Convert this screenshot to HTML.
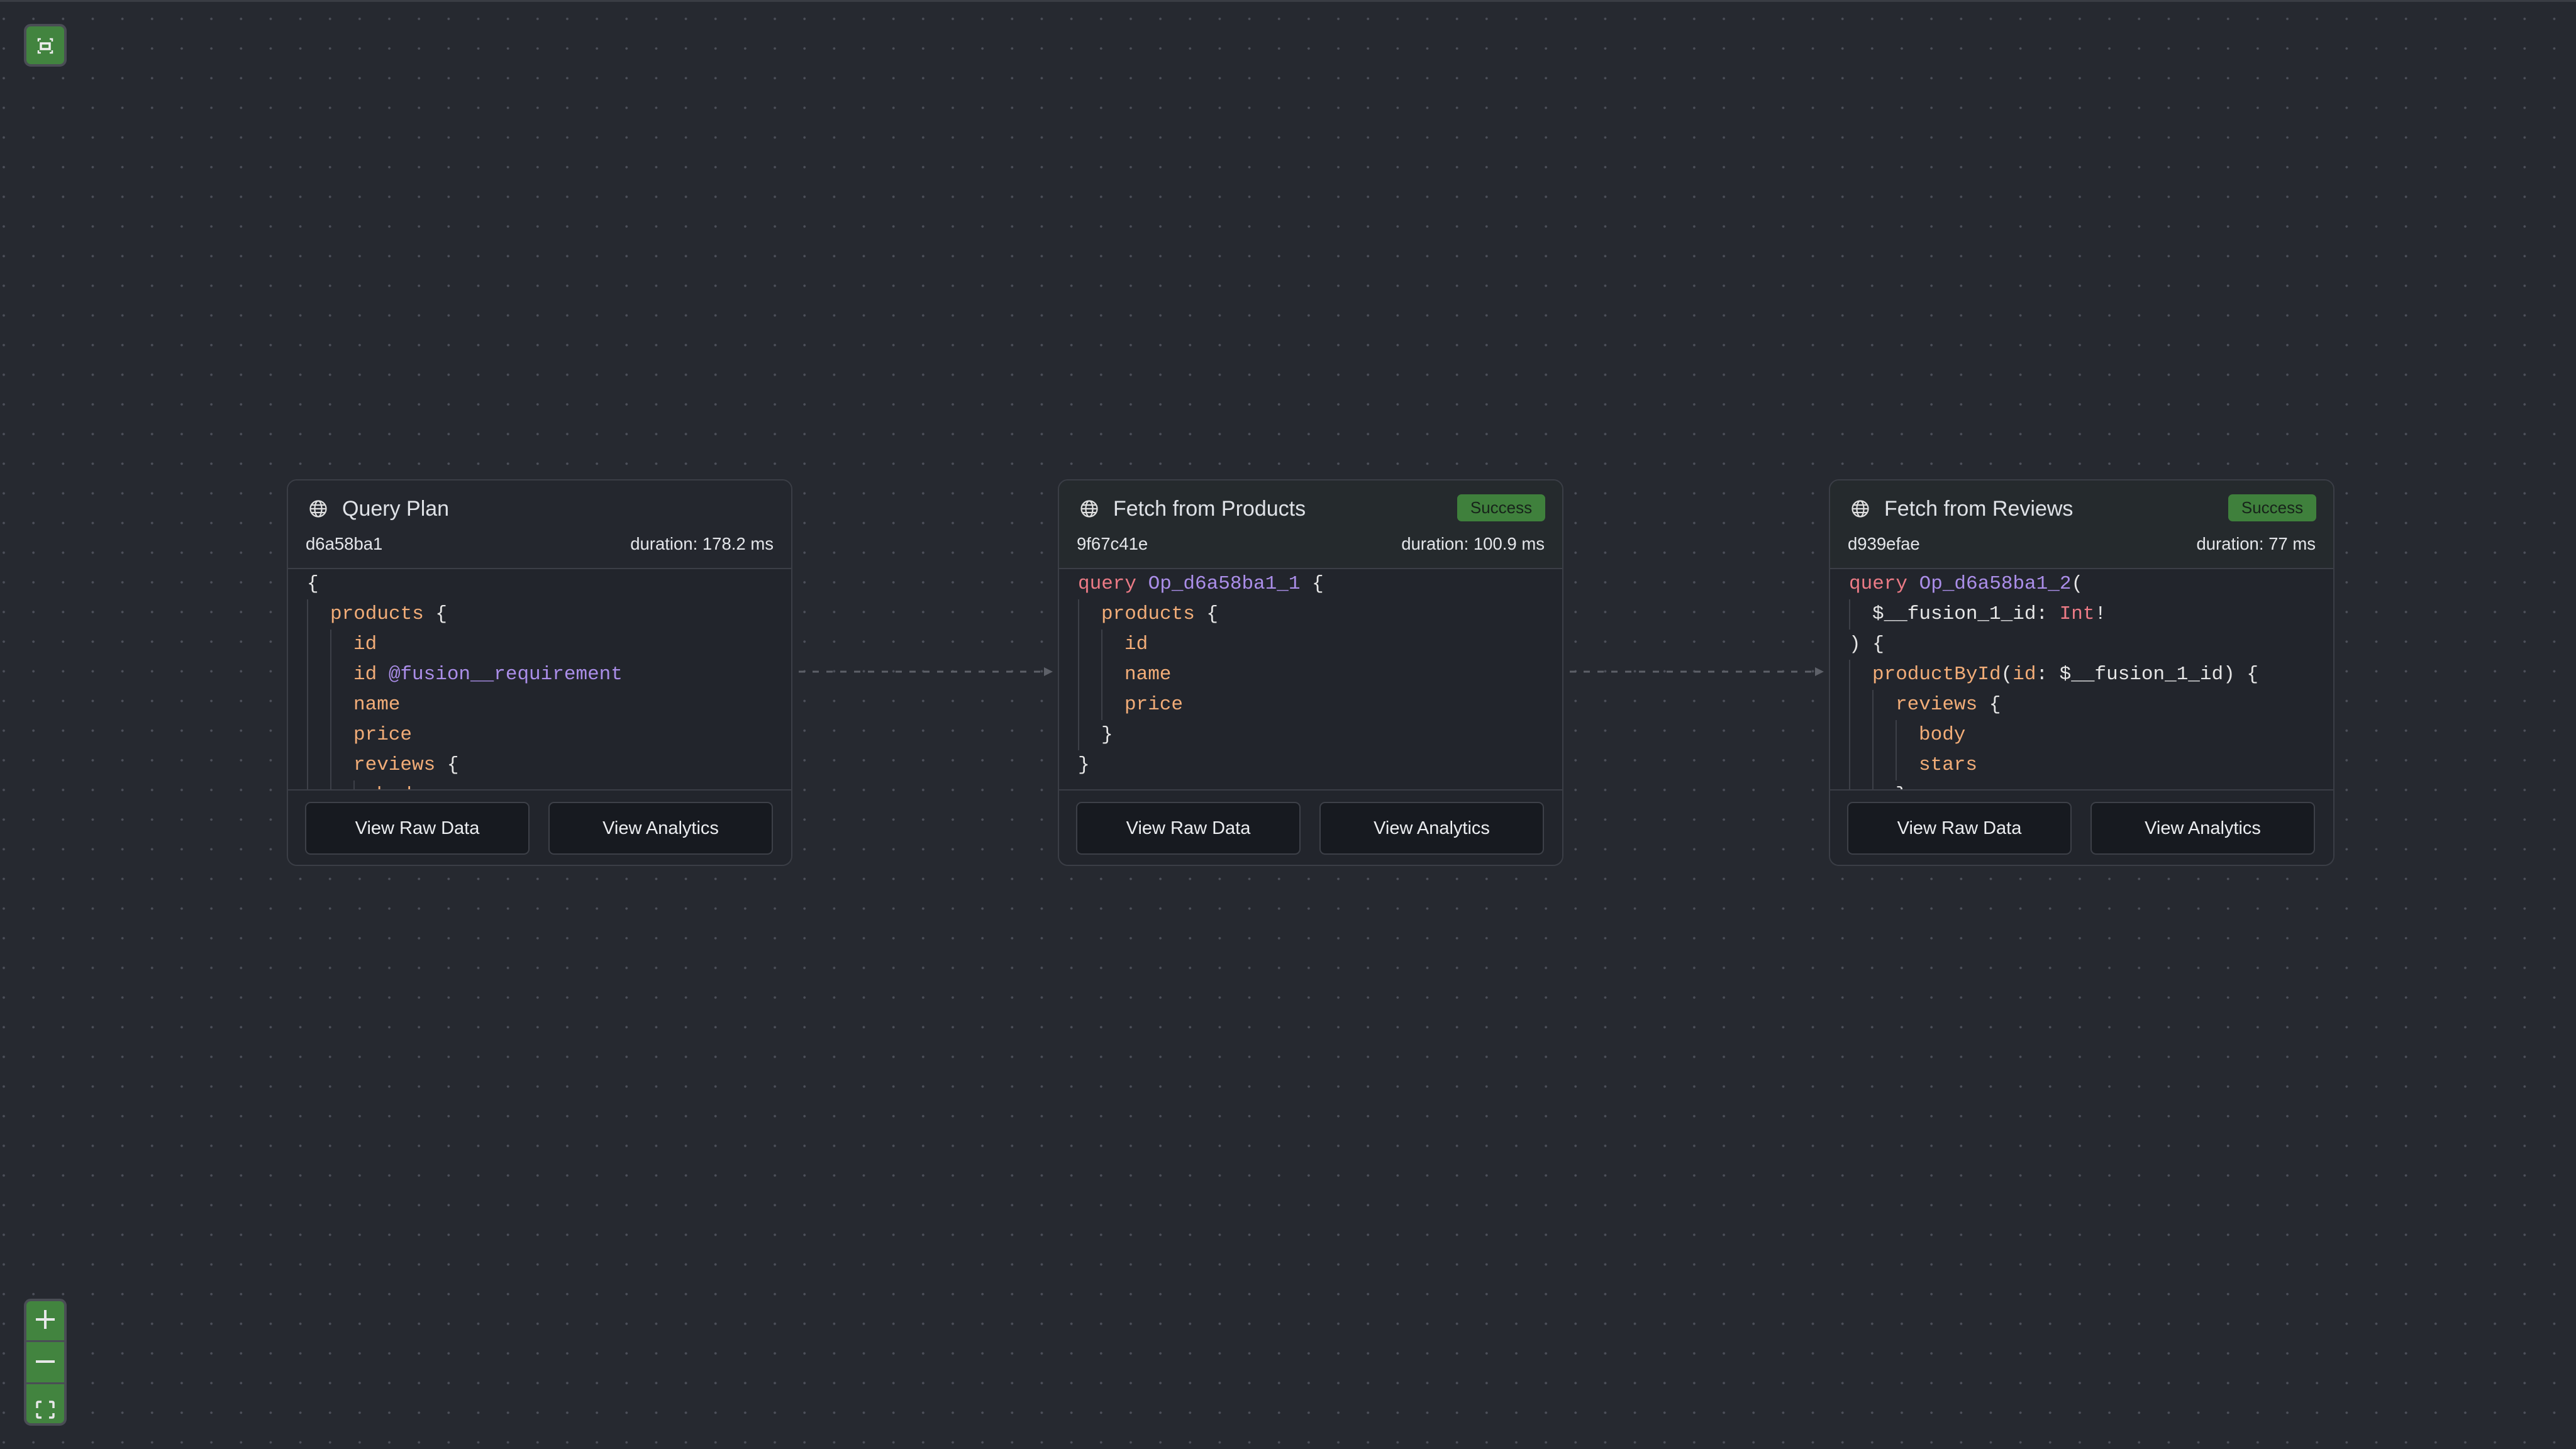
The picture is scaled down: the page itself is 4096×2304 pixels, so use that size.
<!DOCTYPE html>
<html><head><meta charset="utf-8"><style>
*{box-sizing:border-box;margin:0;padding:0}
html,body{width:4096px;height:2304px;overflow:hidden}
body{background-color:#262930;background-image:radial-gradient(circle,#4d505a 1.6px,transparent 2.2px);background-size:47.16px 47.16px;background-position:-17.58px 6.42px;font-family:"Liberation Sans",sans-serif;position:relative}
.topline{position:absolute;left:0;top:0;width:4096px;height:3px;background:#3a3d44}
.node{position:absolute;top:762px;width:804px;height:615px;border:2px solid #3b3e46;border-radius:16px;background:#22252c;overflow:hidden}
.hdr{position:absolute;left:0;top:0;right:0;height:141px;border-bottom:2px solid #3b3e46;background:#24272e}
.n2 .hdr,.n3 .hdr{background:#252a2d}
.icon{position:absolute;left:33px;top:30px;width:30px;height:30px}
.title{position:absolute;left:86px;top:25px;font-size:34px;color:#dfe2e7;line-height:40px}
.meta{position:absolute;left:28px;right:28px;top:86px;font-size:27.5px;color:#e4e6ea;line-height:30px}
.meta .r{position:absolute;right:0;top:0}
.badge{position:absolute;right:27px;top:22px;width:140px;height:43px;background:#3f803c;border-radius:7px;color:#17231a;font-size:26px;line-height:43px;text-align:center}
.code{position:absolute;left:0;right:0;top:141px;height:350px;overflow:hidden;padding-left:30px;font-family:"Liberation Mono",monospace;font-size:31px;color:#e8e8e8}
.l{height:48px;line-height:48px;white-space:pre;display:flex}
.g{width:37px;flex:none;border-left:2px solid #3d4048;height:48px}
.o{color:#f2ad78}.p{color:#ab8ee9}.k{color:#ec7b86}.w{color:#e6e6e6}
.ftr{position:absolute;left:0;right:0;top:491px;bottom:0;border-top:2px solid #3b3e46;background:#22252c}
.btn{position:absolute;top:18px;width:357px;height:84px;background:#171a20;border:2px solid #3d4048;border-radius:9px;color:#eceef1;font-size:29px;line-height:80px;text-align:center}
.b1{left:27px}.b2{left:414px}
.ctl{position:absolute;left:38px;width:68px;background:#42843f;border:4px solid #4a4d55;border-radius:11px}
.edge{position:absolute;top:1057px}
</style></head><body>
<div class="topline"></div>

<div class="ctl" style="top:38px;height:68px">
<svg width="60" height="60" viewBox="0 0 60 60" style="position:absolute;left:0;top:0"><g stroke="#eee" stroke-width="2.5" fill="none"><path d="M19 24v-4h4M37 20h4v4M19 38v4h4M41 38v4h-4"/><rect x="23" y="27" width="14" height="9" stroke-width="3.5"/></g></svg>
</div>

<div class="ctl" style="top:2065px;height:202px">
<svg width="60" height="194" viewBox="0 0 60 194" style="position:absolute;left:0;top:0">
<g stroke="#e8e8ea" stroke-width="4" fill="none"><path d="M15 29h30M30 14v30"/><path d="M15 96h30"/><path d="M17 170v-8q0-2 2-2h5M36 160h5q2 0 2 2v8M17 178v5q0 2 2 2h5M36 185h5q2 0 2-2v-5" stroke-width="3.5"/></g>
<rect x="0" y="62" width="60" height="3" fill="#4a4d55"/><rect x="0" y="129" width="60" height="3" fill="#4a4d55"/>
</svg></div>

<svg class="edge" width="4096" height="22" style="left:0">
<g stroke="#5d6068" stroke-width="3" stroke-dasharray="10 12" fill="none"><path d="M1270 11H1662"/><path d="M2496 11H2888"/></g>
<g fill="#5d6068"><path d="M1660 4l14 7-14 7z"/><path d="M2886 4l14 7-14 7z"/></g>
</svg>

<!-- Node 1 -->
<div class="node n1" style="left:456px">
<div class="hdr">
<svg class="icon" viewBox="0 0 30 30"><g stroke="#e0e0e0" stroke-width="2.2" fill="none"><circle cx="15" cy="15" r="12.5"/><ellipse cx="15" cy="15" rx="5.5" ry="12.5"/><path d="M2.5 15h25M4.5 9h21M4.5 21h21"/></g></svg>
<div class="title">Query Plan</div>
<div class="meta">d6a58ba1<span class="r">duration: 178.2 ms</span></div>
</div>
<div class="code">
<div class="l"><span class="w">{</span></div>
<div class="l"><span class="g"></span><span class="o">products</span><span class="w"> {</span></div>
<div class="l"><span class="g"></span><span class="g"></span><span class="o">id</span></div>
<div class="l"><span class="g"></span><span class="g"></span><span class="o">id </span><span class="p">@fusion__requirement</span></div>
<div class="l"><span class="g"></span><span class="g"></span><span class="o">name</span></div>
<div class="l"><span class="g"></span><span class="g"></span><span class="o">price</span></div>
<div class="l"><span class="g"></span><span class="g"></span><span class="o">reviews</span><span class="w"> {</span></div>
<div class="l"><span class="g"></span><span class="g"></span><span class="g"></span><span class="o">body</span></div>
</div>
<div class="ftr"><div class="btn b1">View Raw Data</div><div class="btn b2">View Analytics</div></div>
</div>

<!-- Node 2 -->
<div class="node n2" style="left:1682px">
<div class="hdr">
<svg class="icon" viewBox="0 0 30 30"><g stroke="#e0e0e0" stroke-width="2.2" fill="none"><circle cx="15" cy="15" r="12.5"/><ellipse cx="15" cy="15" rx="5.5" ry="12.5"/><path d="M2.5 15h25M4.5 9h21M4.5 21h21"/></g></svg>
<div class="title">Fetch from Products</div>
<div class="badge">Success</div>
<div class="meta">9f67c41e<span class="r">duration: 100.9 ms</span></div>
</div>
<div class="code">
<div class="l"><span class="k">query </span><span class="p">Op_d6a58ba1_1</span><span class="w"> {</span></div>
<div class="l"><span class="g"></span><span class="o">products</span><span class="w"> {</span></div>
<div class="l"><span class="g"></span><span class="g"></span><span class="o">id</span></div>
<div class="l"><span class="g"></span><span class="g"></span><span class="o">name</span></div>
<div class="l"><span class="g"></span><span class="g"></span><span class="o">price</span></div>
<div class="l"><span class="g"></span><span class="w">}</span></div>
<div class="l"><span class="w">}</span></div>
</div>
<div class="ftr"><div class="btn b1">View Raw Data</div><div class="btn b2">View Analytics</div></div>
</div>

<!-- Node 3 -->
<div class="node n3" style="left:2908px">
<div class="hdr">
<svg class="icon" viewBox="0 0 30 30"><g stroke="#e0e0e0" stroke-width="2.2" fill="none"><circle cx="15" cy="15" r="12.5"/><ellipse cx="15" cy="15" rx="5.5" ry="12.5"/><path d="M2.5 15h25M4.5 9h21M4.5 21h21"/></g></svg>
<div class="title">Fetch from Reviews</div>
<div class="badge">Success</div>
<div class="meta">d939efae<span class="r">duration: 77 ms</span></div>
</div>
<div class="code">
<div class="l"><span class="k">query </span><span class="p">Op_d6a58ba1_2</span><span class="w">(</span></div>
<div class="l"><span class="g"></span><span class="w">$__fusion_1_id: </span><span class="k">Int</span><span class="w">!</span></div>
<div class="l"><span class="w">) {</span></div>
<div class="l"><span class="g"></span><span class="o">productById</span><span class="w">(</span><span class="o">id</span><span class="w">: $__fusion_1_id) {</span></div>
<div class="l"><span class="g"></span><span class="g"></span><span class="o">reviews</span><span class="w"> {</span></div>
<div class="l"><span class="g"></span><span class="g"></span><span class="g"></span><span class="o">body</span></div>
<div class="l"><span class="g"></span><span class="g"></span><span class="g"></span><span class="o">stars</span></div>
<div class="l"><span class="g"></span><span class="g"></span><span class="w">}</span></div>
</div>
<div class="ftr"><div class="btn b1">View Raw Data</div><div class="btn b2">View Analytics</div></div>
</div>

</body></html>
